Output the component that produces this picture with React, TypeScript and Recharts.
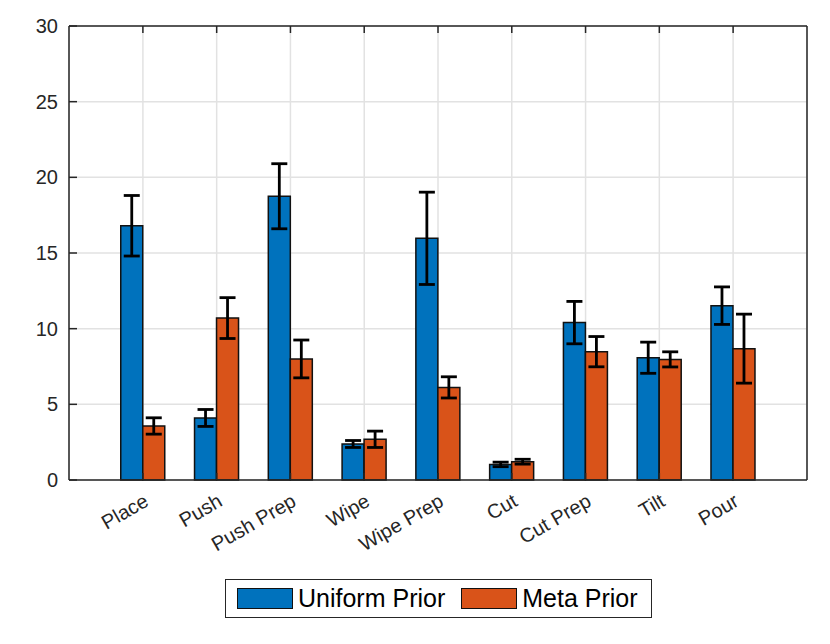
import React from 'react';
import { ComposedChart, Bar, XAxis, YAxis, CartesianGrid, ErrorBar } from 'recharts';

const categories = ['Place', 'Push', 'Push Prep', 'Wipe', 'Wipe Prep', 'Cut', 'Cut Prep', 'Tilt', 'Pour'];
const uniformPrior = [16.8, 4.1, 18.75, 2.38, 15.97, 1.03, 10.4, 8.08, 11.52];
const uniformErr = [2.0, 0.56, 2.15, 0.23, 3.05, 0.15, 1.4, 1.03, 1.24];
const metaPrior = [3.57, 10.7, 8.0, 2.69, 6.12, 1.21, 8.48, 7.97, 8.68];
const metaErr = [0.54, 1.35, 1.25, 0.54, 0.7, 0.16, 1.0, 0.5, 2.28];
const yTicks = [0, 5, 10, 15, 20, 25, 30];

const seriesNames = ['Uniform Prior', 'Meta Prior'];
const seriesColors = ['#0072BD', '#D95319'];

const data = categories.map((name, i) => ({
  name,
  uniform: uniformPrior[i],
  uniformErr: uniformErr[i],
  meta: metaPrior[i],
  metaErr: metaErr[i],
}));

const FONT = '"Liberation Sans", Arial, Helvetica, sans-serif';
const AXIS = '#262626';

const XTick = (props: any) => {
  const { x, y, payload } = props;
  return (
    <g transform={`translate(${x + 7},${y + 32}) rotate(-30)`}>
      <text x={0} y={0} textAnchor="end" fill={AXIS} fontSize={20} fontFamily={FONT}>
        {payload.value}
      </text>
    </g>
  );
};

const EmptyTick = () => <g />;

export default function App() {
  return (
    <div style={{ position: 'relative', width: 822, height: 636 }}>
      <ComposedChart
        width={822}
        height={636}
        data={data}
        margin={{ top: 17, right: 22, left: 0, bottom: 0 }}
        barCategoryGap="20%"
        barGap={0}
      >
        <CartesianGrid stroke="#e2e2e2" strokeWidth={1.5} />
        <XAxis
          dataKey="name"
          type="category"
          height={164}
          padding={{ left: 37, right: 37 }}
          tick={<XTick />}
          tickSize={-7}
          tickMargin={0}
          interval={0}
          axisLine={{ stroke: AXIS, strokeWidth: 1.5 }}
          tickLine={{ stroke: AXIS, strokeWidth: 1.5 }}
        />
        <XAxis
          xAxisId="top"
          dataKey="name"
          type="category"
          orientation="top"
          height={1}
          padding={{ left: 37, right: 37 }}
          tick={<EmptyTick />}
          tickSize={-7}
          interval={0}
          axisLine={{ stroke: AXIS, strokeWidth: 1.5 }}
          tickLine={{ stroke: AXIS, strokeWidth: 1.5 }}
        />
        <YAxis
          type="number"
          domain={[0, 30]}
          ticks={yTicks}
          width={61}
          tickSize={-8}
          tickMargin={19}
          tick={{ fill: AXIS, fontSize: 20, fontFamily: FONT }}
          axisLine={{ stroke: AXIS, strokeWidth: 1.5 }}
          tickLine={{ stroke: AXIS, strokeWidth: 1.5 }}
        />
        <YAxis
          yAxisId="right"
          orientation="right"
          type="number"
          domain={[0, 30]}
          ticks={yTicks}
          width={1}
          tick={<EmptyTick />}
          tickSize={-8}
          axisLine={{ stroke: AXIS, strokeWidth: 1.5 }}
          tickLine={{ stroke: AXIS, strokeWidth: 1.5 }}
        />
        <Bar dataKey="uniform" name={seriesNames[0]} fill={seriesColors[0]} stroke="#111" strokeWidth={1.5} isAnimationActive={false}>
          <ErrorBar dataKey="uniformErr" width={8} stroke="#000" strokeWidth={2.8} />
        </Bar>
        <Bar dataKey="meta" name={seriesNames[1]} fill={seriesColors[1]} stroke="#111" strokeWidth={1.5} isAnimationActive={false}>
          <ErrorBar dataKey="metaErr" width={8} stroke="#000" strokeWidth={2.8} />
        </Bar>
      </ComposedChart>
      <div
        style={{
          position: 'absolute',
          left: 217,
          top: 571,
          width: 427,
          height: 39,
          boxSizing: 'border-box',
          border: `1.5px solid ${AXIS}`,
          background: '#fff',
          display: 'flex',
          alignItems: 'center',
          fontFamily: FONT,
          fontSize: 25,
          color: '#000',
        }}
      >
        {seriesNames.map((n, i) => (
          <div key={n} style={{ display: 'flex', alignItems: 'center', marginLeft: i === 0 ? 11 : 16 }}>
            <div
              style={{
                width: 56,
                height: 21,
                boxSizing: 'border-box',
                background: seriesColors[i],
                border: '1.5px solid #111',
                marginRight: 5,
              }}
            />
            <span style={{ lineHeight: '25px' }}>{n}</span>
          </div>
        ))}
      </div>
    </div>
  );
}
